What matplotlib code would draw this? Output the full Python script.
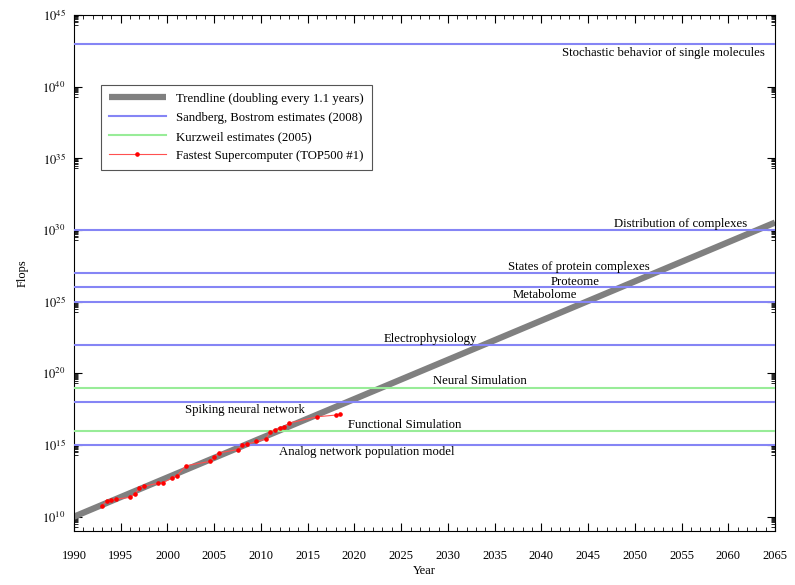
import numpy as np
import matplotlib
matplotlib.use("Agg")
import matplotlib.pyplot as plt
from matplotlib.ticker import FixedLocator, MultipleLocator, NullFormatter

plt.rcParams['font.family'] = ['Liberation Serif', 'DejaVu Serif']
plt.rcParams['mathtext.fontset'] = 'stix'

# Trendline endpoints (doubling every 1.1 years)
trend_years = [1990, 2065]
trend_flops = [1e10, 3.3e30]

# Sandberg, Bostrom estimates (2008)
sb_labels = ["Analog network population model", "Spiking neural network", "Electrophysiology",
             "Metabolome", "Proteome", "States of protein complexes",
             "Distribution of complexes", "Stochastic behavior of single molecules"]
sb_flops = [1e15, 1e18, 1e22, 1e25, 1e26, 1e27, 1e30, 1e43]

# Kurzweil estimates (2005)
kz_labels = ["Functional Simulation", "Neural Simulation"]
kz_flops = [1e16, 1e19]

# Fastest supercomputer (TOP500 #1), Rmax in flops
top_years = [1993.0, 1993.5, 1994.0, 1994.5, 1996.0, 1996.5, 1997.0, 1997.5, 1999.0, 1999.5,
             2000.5, 2001.0, 2002.0, 2004.5, 2005.0, 2005.5, 2007.5, 2008.0, 2008.5, 2009.5,
             2010.5, 2011.0, 2011.5, 2012.0, 2012.5, 2013.0, 2016.0, 2018.0, 2018.5]
top_flops = [59.7e9, 124.5e9, 143.4e9, 170.4e9, 220.4e9, 368.2e9, 1.068e12, 1.338e12, 2.121e12, 2.379e12,
             4.938e12, 7.226e12, 35.86e12, 70.72e12, 136.8e12, 280.6e12, 478.2e12, 1.026e15, 1.105e15, 1.759e15,
             2.566e15, 8.162e15, 10.51e15, 16.32e15, 17.59e15, 33.86e15, 93.01e15, 122.3e15, 143.5e15]

# Annotation placement (year, log10 value, alignment) for each label
label_pos = {
    "Stochastic behavior of single molecules": (2063.9, 42.35, 'right'),
    "Distribution of complexes": (2062.0, 30.4, 'right'),
    "States of protein complexes": (2051.6, 27.4, 'right'),
    "Proteome": (2043.6, 26.4, 'center'),
    "Metabolome": (2040.4, 25.45, 'center'),
    "Electrophysiology": (2028.1, 22.4, 'center'),
    "Neural Simulation": (2033.4, 19.45, 'center'),
    "Spiking neural network": (2008.3, 17.45, 'center'),
    "Functional Simulation": (2025.4, 16.4, 'center'),
    "Analog network population model": (2021.3, 14.5, 'center'),
}

blue = '#8585f5'
green = '#98ec98'

fig = plt.figure(figsize=(7.95, 5.85), dpi=100)
ax = fig.add_axes([0.0931, 0.0923, 0.8818, 0.8821])

ax.plot(trend_years, trend_flops, color='#808080', lw=4.5, solid_capstyle='butt',
        label="Trendline (doubling every 1.1 years)", zorder=2)
for i, v in enumerate(sb_flops):
    ax.axhline(v, color=blue, lw=1.5, zorder=3,
               label="Sandberg, Bostrom estimates (2008)" if i == 0 else None)
for i, v in enumerate(kz_flops):
    ax.axhline(v, color=green, lw=1.5, zorder=3,
               label="Kurzweil estimates (2005)" if i == 0 else None)
ax.plot(top_years, top_flops, color='#ff5050', lw=0.8, marker='o', ms=2.3,
        mfc='red', mec='red', label="Fastest Supercomputer (TOP500 #1)", zorder=4)

for name in sb_labels + kz_labels:
    x, e, ha = label_pos[name]
    ax.text(x, 10 ** e, name, ha=ha, va='center', fontsize=9.2, zorder=5)

ax.set_yscale('log')
ax.set_xlim(1990, 2065)
ax.set_ylim(1e9, 1e45)

majors = [10.0 ** k for k in range(10, 46, 5)]
ax.yaxis.set_major_locator(FixedLocator(majors))
ax.yaxis.set_major_formatter(matplotlib.ticker.FuncFormatter(
    lambda v, p: r'$10^{%d}$' % round(np.log10(v))))
minors = [m * i / 10 for m in majors for i in range(2, 10)]
ax.yaxis.set_minor_locator(FixedLocator(minors))
ax.yaxis.set_minor_formatter(NullFormatter())

ax.xaxis.set_major_locator(MultipleLocator(5))
ax.xaxis.set_minor_locator(MultipleLocator(1))

ax.tick_params(which='both', direction='in', top=True, right=True, labelsize=9, pad=14)
ax.tick_params(which='major', length=6, width=0.8)
ax.tick_params(which='minor', length=3, width=0.6)
ax.tick_params(axis='y', pad=6)

ax.set_xlabel("Year", fontsize=9, labelpad=2)
ax.set_ylabel("Flops", fontsize=9, labelpad=10)

leg = ax.legend(loc='upper left', bbox_to_anchor=(0.0385, 0.864), fontsize=9.2,
                frameon=True, fancybox=False, framealpha=1, edgecolor='#555555',
                handlelength=4.5, borderpad=0.6, labelspacing=0.55, borderaxespad=0)
leg.get_frame().set_linewidth(0.8)

fig.savefig("out.png", dpi=100)
